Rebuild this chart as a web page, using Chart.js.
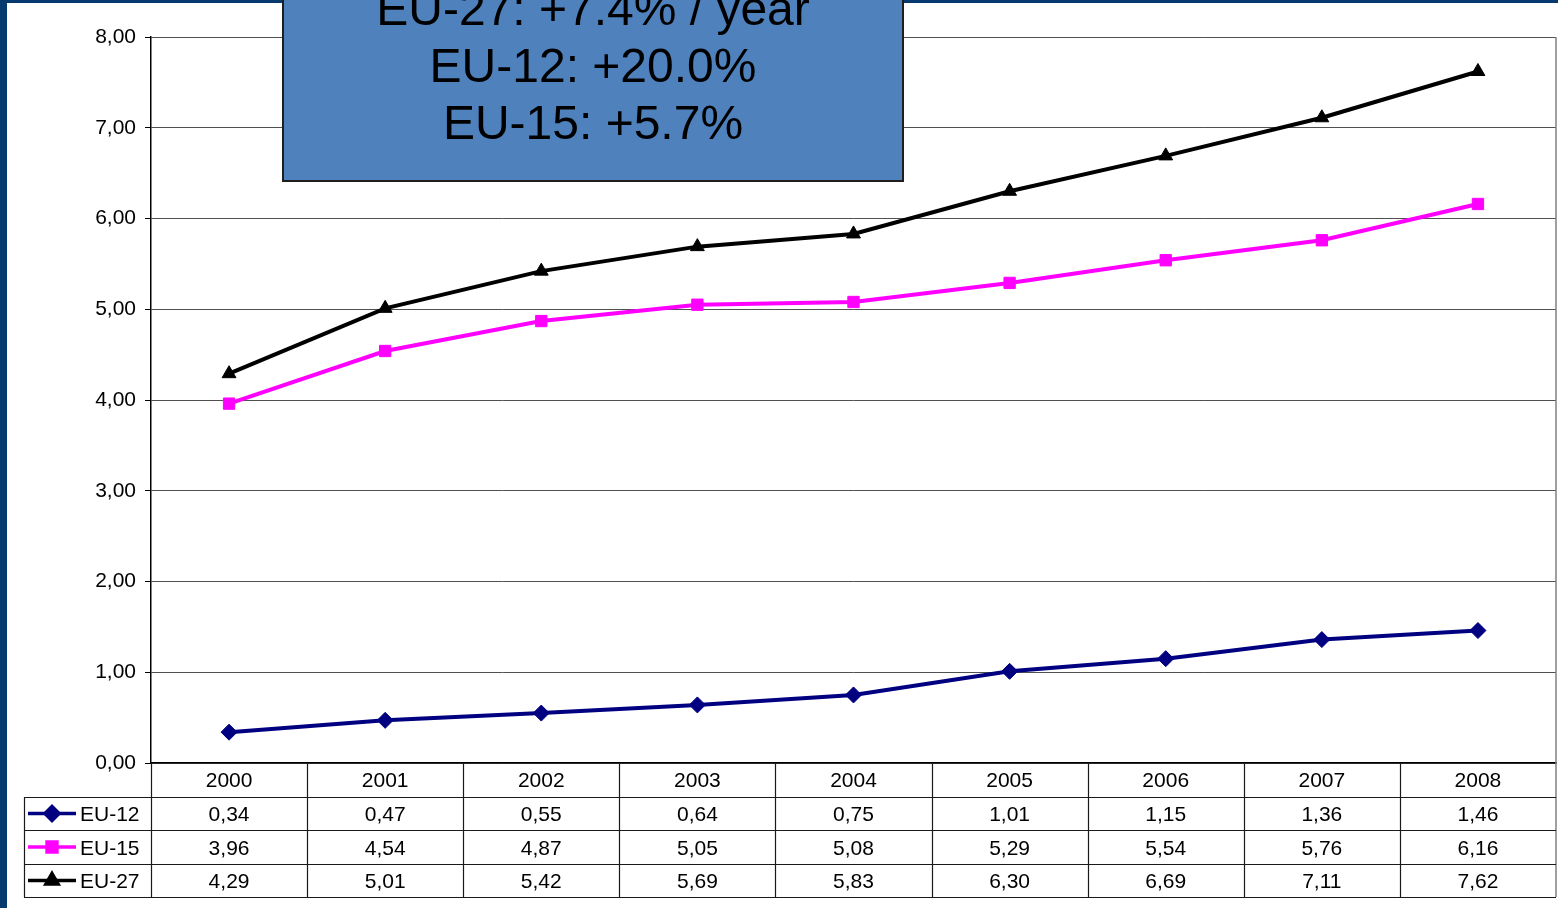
<!DOCTYPE html>
<html>
<head>
<meta charset="utf-8">
<script src="https://cdn.jsdelivr.net/npm/chart.js@4/dist/chart.umd.min.js"></script>
<style>
  html, body { margin: 0; padding: 0; background: #ffffff; }
  #wrap { position: relative; width: 1558px; height: 908px; overflow: hidden; }
  canvas { display: block; }
</style>
</head>
<body>
<div id="wrap"><canvas id="chart" width="1558" height="908"></canvas></div>
<script>
// Years on the category axis
const years = ['2000', '2001', '2002', '2003', '2004', '2005', '2006', '2007', '2008'];

// Series values
const eu12 = [0.34, 0.47, 0.55, 0.64, 0.75, 1.01, 1.15, 1.36, 1.46];
const eu15 = [3.96, 4.54, 4.87, 5.05, 5.08, 5.29, 5.54, 5.76, 6.16];
const eu27 = [4.29, 5.01, 5.42, 5.69, 5.83, 6.30, 6.69, 7.11, 7.62];

// Series names
const seriesNames = ['EU-12', 'EU-15', 'EU-27'];

// Growth call-out text
const calloutLines = ['EU-27: +7.4% / year', 'EU-12: +20.0%', 'EU-15: +5.7%'];

// Value axis
const yMin = 0, yMax = 8, yStep = 1;

const FONT = '"Liberation Sans", Arial, Helvetica, sans-serif';
const fmt = v => v.toFixed(2).replace('.', ',');

// Page frame and white background
const framePlugin = {
  id: 'frame',
  beforeDraw(chart) {
    const ctx = chart.ctx;
    ctx.save();
    ctx.fillStyle = '#ffffff';
    ctx.fillRect(0, 0, chart.width, chart.height);
    ctx.fillStyle = '#063a6e';
    ctx.fillRect(0, 0, 7, chart.height);
    ctx.fillRect(0, 0, chart.width, 3);
    ctx.restore();
  }
};

// Data table under the plot, with legend keys in the first column
const tablePlugin = {
  id: 'dataTable',
  afterDraw(chart) {
    const ctx = chart.ctx;
    const area = chart.chartArea;
    const xs = chart.scales.x;
    const n = years.length;
    const colW = (area.right - area.left) / n;
    const top = area.bottom;
    const rowH = [34, 33, 34, 33];
    const rowY = [top];
    rowH.forEach(h => rowY.push(rowY[rowY.length - 1] + h));
    const tableLeft = 24;

    ctx.save();
    // plot area right edge
    ctx.strokeStyle = '#808080';
    ctx.lineWidth = 1.5;
    ctx.beginPath();
    ctx.moveTo(area.right, area.top);
    ctx.lineTo(area.right, rowY[4]);
    ctx.stroke();

    ctx.strokeStyle = '#1a1a1a';
    ctx.lineWidth = 1.2;
    ctx.beginPath();
    // horizontal lines
    for (let r = 1; r <= 4; r++) {
      ctx.moveTo(tableLeft, Math.round(rowY[r]) + 0.5);
      ctx.lineTo(area.right, Math.round(rowY[r]) + 0.5);
    }
    // left border of legend column
    ctx.moveTo(tableLeft + 0.5, rowY[1]);
    ctx.lineTo(tableLeft + 0.5, rowY[4]);
    // column separators
    for (let i = 0; i < n; i++) {
      const x = Math.round(area.left + i * colW) + 0.5;
      ctx.moveTo(x, top);
      ctx.lineTo(x, rowY[4]);
    }
    ctx.stroke();

    ctx.fillStyle = '#000000';
    ctx.font = '21px ' + FONT;
    ctx.textAlign = 'center';
    ctx.textBaseline = 'middle';
    // header row: years
    years.forEach((y, i) => {
      ctx.fillText(y, xs.getPixelForValue(i), (rowY[0] + rowY[1]) / 2 + 1);
    });
    // data rows
    chart.data.datasets.forEach((ds, r) => {
      const cy = (rowY[r + 1] + rowY[r + 2]) / 2 + 2;
      ctx.fillStyle = '#000000';
      ctx.textAlign = 'center';
      ds.data.forEach((v, i) => {
        ctx.fillText(fmt(v), xs.getPixelForValue(i), cy);
      });
      // legend key
      const ky = cy - 2;
      ctx.strokeStyle = ds.borderColor;
      ctx.lineWidth = 3.5;
      ctx.beginPath();
      ctx.moveTo(28, ky);
      ctx.lineTo(76, ky);
      ctx.stroke();
      ctx.fillStyle = ds.borderColor;
      ctx.strokeStyle = ds.borderColor;
      Chart.helpers.drawPoint(ctx, {
        pointStyle: ds.pointStyle,
        radius: ds.pointRadius - 1,
        borderWidth: 1,
        rotation: 0
      }, 52, ky);
      ctx.fillStyle = '#000000';
      ctx.textAlign = 'left';
      ctx.fillText(ds.label, 80, cy);
    });
    ctx.restore();
  }
};

// Growth call-out box
const calloutPlugin = {
  id: 'callout',
  afterDraw(chart) {
    const ctx = chart.ctx;
    ctx.save();
    ctx.fillStyle = '#4f81bd';
    ctx.fillRect(282, -20, 622, 202);
    ctx.strokeStyle = '#1f1f1f';
    ctx.lineWidth = 2;
    ctx.strokeRect(283, -20, 620, 201);
    ctx.fillStyle = '#000000';
    ctx.font = '48px ' + FONT;
    ctx.textAlign = 'center';
    ctx.textBaseline = 'alphabetic';
    const baselines = [25, 82, 139];
    calloutLines.forEach((t, i) => ctx.fillText(t, 593, baselines[i]));
    ctx.restore();
  }
};

new Chart(document.getElementById('chart'), {
  type: 'line',
  data: {
    labels: years,
    datasets: [
      {
        label: seriesNames[0], data: eu12,
        borderColor: '#000080', backgroundColor: '#000080',
        borderWidth: 4, pointStyle: 'rectRot', pointRadius: 8,
        pointBorderWidth: 1, tension: 0
      },
      {
        label: seriesNames[1], data: eu15,
        borderColor: '#ff00ff', backgroundColor: '#ff00ff',
        borderWidth: 4, pointStyle: 'rect', pointRadius: 8,
        pointBorderWidth: 1, tension: 0
      },
      {
        label: seriesNames[2], data: eu27,
        borderColor: '#000000', backgroundColor: '#000000',
        borderWidth: 4, pointStyle: 'triangle', pointRadius: 8,
        pointBorderWidth: 1, tension: 0
      }
    ]
  },
  options: {
    responsive: false,
    animation: false,
    devicePixelRatio: 1,
    layout: { autoPadding: false, padding: { left: 0, top: 37, right: 2, bottom: 145 } },
    plugins: {
      legend: { display: false },
      tooltip: { enabled: false },
      title: { display: false }
    },
    scales: {
      x: {
        type: 'category',
        offset: true,
        grid: { display: false, drawTicks: false },
        border: { display: true, color: '#000000', width: 1.5 },
        ticks: { display: false },
        afterFit(s) { s.height = 0; }
      },
      y: {
        min: yMin, max: yMax,
        ticks: {
          stepSize: yStep,
          color: '#000000',
          font: { family: FONT, size: 21 },
          padding: 9,
          callback: v => fmt(v)
        },
        grid: { color: '#505050', lineWidth: 1, tickLength: 6, tickColor: '#000000' },
        border: { display: true, color: '#000000', width: 1.5 },
        afterFit(s) { s.width = 151; }
      }
    }
  },
  plugins: [framePlugin, tablePlugin, calloutPlugin]
});
</script>
</body>
</html>
